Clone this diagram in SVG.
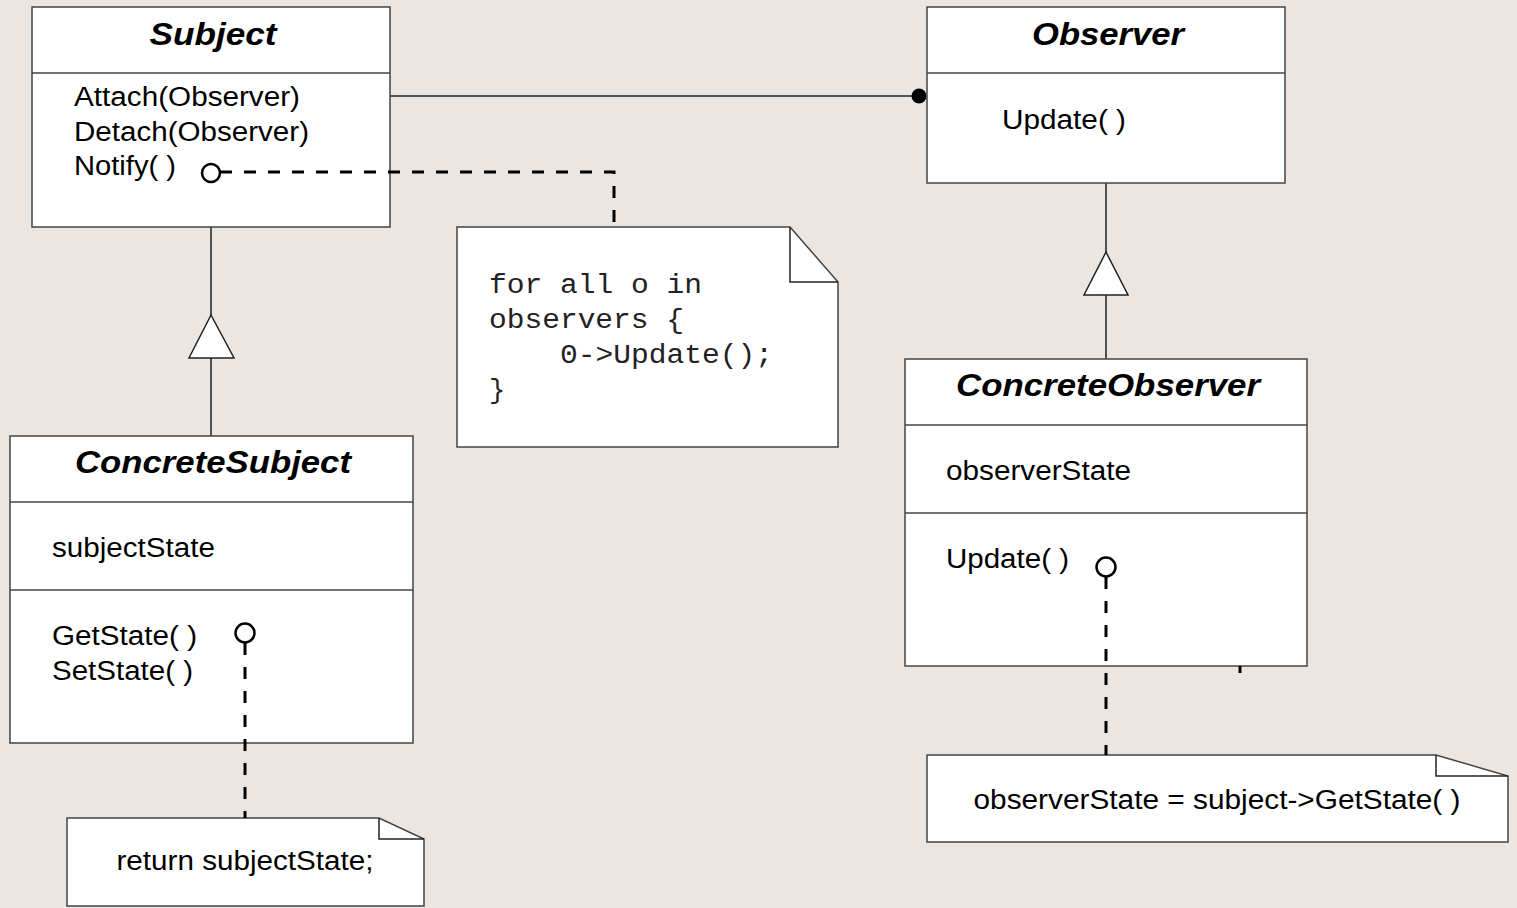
<svg xmlns="http://www.w3.org/2000/svg" width="1517" height="908" viewBox="0 0 1517 908">
<style>
.box{fill:#fff;stroke:#444;stroke-width:1.5}
.div{stroke:#444;stroke-width:1.5}
.ln{stroke:#222;stroke-width:1.5;fill:none}
.dash{stroke:#000;stroke-width:3;fill:none;stroke-dasharray:12 12}
.pin{fill:#fff;stroke:#000;stroke-width:2.5}
.tri{fill:#fff;stroke:#222;stroke-width:1.5}
.title{font-family:"Liberation Sans",Arial,sans-serif;font-weight:bold;font-style:italic;font-size:32px;fill:#000;text-anchor:middle}
.t{font-family:"Liberation Sans",Arial,sans-serif;font-size:27px;fill:#000}
.mono{font-family:"Liberation Mono","Courier New",monospace;font-size:27px;fill:#222}
</style>
<rect x="0" y="0" width="1517" height="908" fill="#EBE6E2"/>
<g id="connectors">
<path class="ln" d="M390,96 H919"/>
<circle cx="919" cy="96" r="7.5" fill="#000"/>
<path class="ln" d="M211,227 V315 M211,358 V436"/>
<polygon class="tri" points="211,315 189,358 234,358"/>
<path class="ln" d="M1106,183 V252 M1106,295 V359"/>
<polygon class="tri" points="1106,252 1084,295 1128,295"/>
</g>
<g id="Subject">
<rect class="box" x="32" y="7" width="358" height="220"/>
<line class="div" x1="32" y1="73" x2="390" y2="73"/>
<text class="title" x="213" y="45" textLength="127" lengthAdjust="spacingAndGlyphs">Subject</text>
<text class="t" x="74" y="106" textLength="226" lengthAdjust="spacingAndGlyphs">Attach(Observer)</text>
<text class="t" x="74" y="141" textLength="235" lengthAdjust="spacingAndGlyphs">Detach(Observer)</text>
<text class="t" x="74" y="175" textLength="102" lengthAdjust="spacingAndGlyphs">Notify( )</text>
</g>
<g id="Observer">
<rect class="box" x="927" y="7" width="358" height="176"/>
<line class="div" x1="927" y1="73" x2="1285" y2="73"/>
<text class="title" x="1108" y="45" textLength="152" lengthAdjust="spacingAndGlyphs">Observer</text>
<text class="t" x="1002" y="129" textLength="124" lengthAdjust="spacingAndGlyphs">Update( )</text>
</g>
<g id="ConcreteSubject">
<rect class="box" x="10" y="436" width="403" height="307"/>
<line class="div" x1="10" y1="502" x2="413" y2="502"/>
<line class="div" x1="10" y1="590" x2="413" y2="590"/>
<text class="title" x="213" y="473" textLength="276" lengthAdjust="spacingAndGlyphs">ConcreteSubject</text>
<text class="t" x="52" y="557" textLength="163" lengthAdjust="spacingAndGlyphs">subjectState</text>
<text class="t" x="52" y="645" textLength="145" lengthAdjust="spacingAndGlyphs">GetState( )</text>
<text class="t" x="52" y="680" textLength="141" lengthAdjust="spacingAndGlyphs">SetState( )</text>
</g>
<g id="ConcreteObserver">
<rect class="box" x="905" y="359" width="402" height="307"/>
<line class="div" x1="905" y1="425" x2="1307" y2="425"/>
<line class="div" x1="905" y1="513" x2="1307" y2="513"/>
<text class="title" x="1108" y="396" textLength="304" lengthAdjust="spacingAndGlyphs">ConcreteObserver</text>
<text class="t" x="946" y="480" textLength="185" lengthAdjust="spacingAndGlyphs">observerState</text>
<text class="t" x="946" y="568" textLength="123" lengthAdjust="spacingAndGlyphs">Update( )</text>
</g>
<g id="NoteNotify">
<path class="box" d="M457,227 H790 L838,282 V447 H457 Z"/>
<path class="ln" d="M790,227 V282 H838"/>
<text class="mono" x="489" y="293" textLength="213" lengthAdjust="spacingAndGlyphs">for all o in</text>
<text class="mono" x="489" y="328" textLength="195" lengthAdjust="spacingAndGlyphs">observers {</text>
<text class="mono" x="560" y="363" textLength="213" lengthAdjust="spacingAndGlyphs">0-&gt;Update();</text>
<text class="mono" x="489" y="398">}</text>
</g>
<g id="NoteGetState">
<path class="box" d="M67,818 H379 L424,839 V906 H67 Z"/>
<path class="ln" d="M379,818 V839 H424"/>
<text class="t" x="245" y="870" text-anchor="middle" textLength="257" lengthAdjust="spacingAndGlyphs">return subjectState;</text>
</g>
<g id="NoteUpdate">
<path class="box" d="M927,755 H1436 L1508,776 V842 H927 Z"/>
<path class="ln" d="M1436,755 V776 H1508"/>
<text class="t" x="1217" y="809" text-anchor="middle" textLength="487" lengthAdjust="spacingAndGlyphs">observerState = subject-&gt;GetState( )</text>
</g>
<g id="note-links">
<path class="dash" d="M220,172 H614 V227" stroke-dasharray="10 13 12 11.5"/>
<circle class="pin" cx="211" cy="173" r="9"/>
<path class="dash" d="M245,643 V818"/>
<circle class="pin" cx="245" cy="633" r="9.5"/>
<path class="dash" d="M1106,577 V755"/>
<circle class="pin" cx="1106" cy="567" r="9.5"/>
<path class="dash" d="M1240,666 V673" stroke-dasharray="none"/>
</g>
</svg>
